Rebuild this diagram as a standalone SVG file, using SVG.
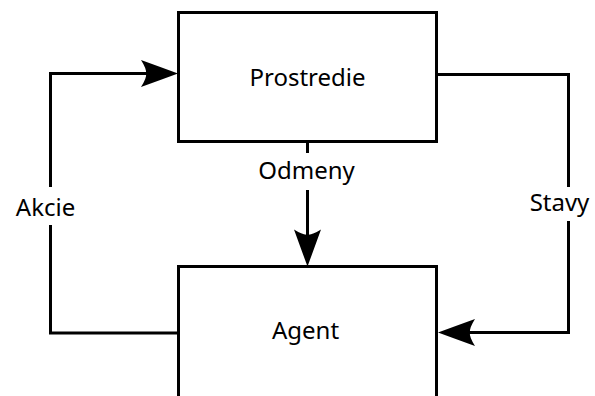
<svg xmlns="http://www.w3.org/2000/svg" width="595" height="396" viewBox="0 0 595 396">
<defs>
<style>
.box{fill:#fff;stroke:#000;stroke-width:3}
.conn{fill:none;stroke:#000;stroke-width:3}
.lbl{font-family:"Noto Sans","DejaVu Sans",sans-serif;font-size:24px;fill:#000;text-anchor:middle}
.bg{fill:#fff}
</style>
<marker id="arr" markerUnits="userSpaceOnUse" markerWidth="80" markerHeight="80" refX="0" refY="0" orient="auto" overflow="visible">
<path d="M29,0 Q10,-7 -8,-13.5 Q-2,-4 -3,0 Q-2,4 -8,13.5 Q10,7 29,0 Z" fill="#000"/>
</marker>
</defs>
<rect width="595" height="396" fill="#fff"/>
<g id="connectors">
<polyline class="conn" points="178,333 50.5,333 50.5,73.5 149,73.5" marker-end="url(#arr)"/>
<polyline class="conn" points="437,74.5 568.5,74.5 568.5,332.5 467,332.5" marker-end="url(#arr)"/>
<line class="conn" x1="307.5" y1="141.5" x2="307.5" y2="237.5" marker-end="url(#arr)"/>
</g>
<g id="node-prostredie">
<rect class="box" x="178.5" y="12.5" width="258" height="129"/>
<text class="lbl" x="307.5" y="86">Prostredie</text>
</g>
<g id="node-agent">
<rect class="box" x="178.5" y="266.5" width="258" height="136"/>
<text class="lbl" x="305.5" y="339">Agent</text>
</g>
<g id="label-odmeny">
<rect class="bg" x="250" y="153" width="114" height="37"/>
<text class="lbl" x="306.5" y="179">Odmeny</text>
</g>
<g id="label-akcie">
<rect class="bg" x="8" y="187" width="80" height="38"/>
<text class="lbl" x="45.5" y="216">Akcie</text>
</g>
<g id="label-stavy">
<rect class="bg" x="522" y="187" width="73" height="34"/>
<text class="lbl" x="559.5" y="211">Stavy</text>
</g>
</svg>
